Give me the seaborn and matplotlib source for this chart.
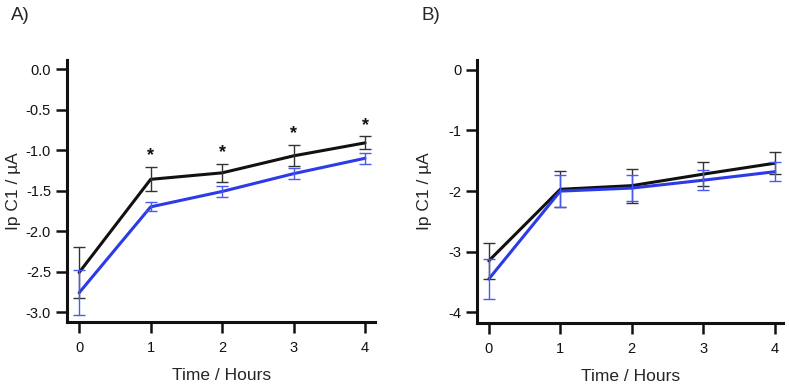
import numpy as np
import pandas as pd
import matplotlib
matplotlib.use("Agg")
import matplotlib.pyplot as plt
import seaborn as sns

# Data
hours = [0, 1, 2, 3, 4]

a_black = [-2.51, -1.36, -1.28, -1.07, -0.91]
a_black_err = [0.31, 0.15, 0.11, 0.13, 0.08]
a_blue = [-2.76, -1.70, -1.51, -1.29, -1.10]
a_blue_err = [0.28, 0.055, 0.065, 0.07, 0.07]

b_black = [-3.15, -1.97, -1.91, -1.72, -1.54]
b_black_err = [0.30, 0.30, 0.28, 0.20, 0.18]
b_blue = [-3.45, -2.00, -1.95, -1.82, -1.68]
b_blue_err = [0.33, 0.27, 0.22, 0.16, 0.16]

# significance markers (panel A, hours 1-4)
star_hours = [1, 2, 3, 4]

BLACK = "#111111"
BLUE = "#2b3be8"

sns.set_style("ticks")
plt.rcParams["font.family"] = ["Liberation Sans", "DejaVu Sans"]
plt.rcParams["axes.unicode_minus"] = False

fig = plt.figure(figsize=(7.89, 3.86), dpi=100)
ax_a = fig.add_axes([0.0849, 0.166, 0.3905, 0.679])
ax_b = fig.add_axes([0.605, 0.164, 0.387, 0.681])


def draw_panel(ax, black, black_err, blue, blue_err):
    df = pd.DataFrame({
        "hour": hours * 2,
        "ip": black + blue,
        "group": ["black"] * 5 + ["blue"] * 5,
    })
    sns.lineplot(data=df, x="hour", y="ip", hue="group",
                 palette={"black": BLACK, "blue": BLUE},
                 linewidth=2.2, legend=False, ax=ax, zorder=3)
    ax.errorbar(hours, black, yerr=black_err, fmt="none", ecolor="#333333",
                elinewidth=1.0, capsize=4, capthick=1.0, zorder=4)
    ax.errorbar(hours, blue, yerr=blue_err, fmt="none", ecolor="#4a5af0",
                elinewidth=1.0, capsize=4, capthick=1.0, zorder=4)
    sns.despine(ax=ax)
    for s in ["left", "bottom"]:
        ax.spines[s].set_linewidth(2.2)
        ax.spines[s].set_color("#111111")
    ax.tick_params(axis="both", width=1.8, length=8, labelsize=10.5,
                   colors="#111111", direction="out")
    ax.tick_params(axis="x", pad=6)
    ax.set_xticks(hours)
    ax.set_xlabel("Time / Hours", fontsize=12.5)
    ax.set_ylabel("Ip C1 / µA", fontsize=12.5)
    ax.xaxis.set_label_coords(0.503, -0.176)


draw_panel(ax_a, a_black, a_black_err, a_blue, a_blue_err)
ax_a.set_xlim(-0.17, 4.14)
ax_a.set_ylim(-3.12, 0.115)
ax_a.set_yticks([0.0, -0.5, -1.0, -1.5, -2.0, -2.5, -3.0])
ax_a.set_yticklabels([f"{v:.1f}" for v in [0.0, -0.5, -1.0, -1.5, -2.0, -2.5, -3.0]])
ax_a.yaxis.set_label_coords(-0.149, 0.5)
for h in star_hours:
    top = a_black[h] + a_black_err[h]
    ax_a.annotate("*", (h, top), xytext=(0, 2), textcoords="offset points",
                  ha="center", va="bottom", fontsize=13, fontweight="bold",
                  color=BLACK)

draw_panel(ax_b, b_black, b_black_err, b_blue, b_blue_err)
ax_b.set_xlim(-0.16, 4.11)
ax_b.set_ylim(-4.17, 0.165)
ax_b.set_yticks([0, -1, -2, -3, -4])
ax_b.yaxis.set_label_coords(-0.148, 0.5)

fig.text(0.014, 0.961, "A)", fontsize=13.5, va="center", ha="left")
fig.text(0.534, 0.961, "B)", fontsize=13.5, va="center", ha="left")

fig.savefig("out.png", dpi=100)
